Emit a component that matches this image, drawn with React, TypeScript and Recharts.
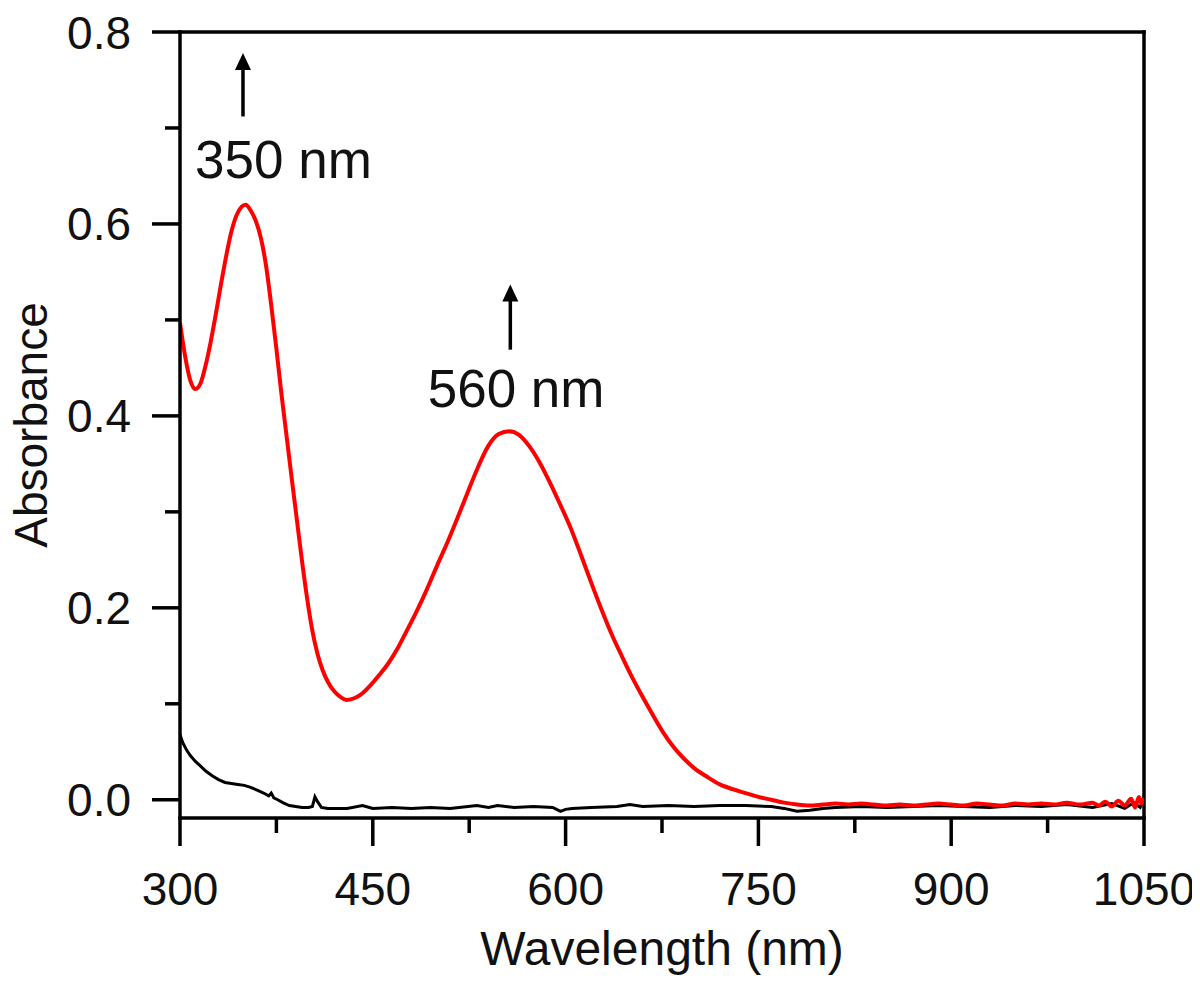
import React from 'react';
import { LineChart, Line, XAxis, YAxis, ReferenceDot, ReferenceLine } from 'recharts';

// Red spectrum (after) – wavelength in nm, absorbance
const RED_WAVELENGTH = [
  300, 304, 308, 312, 316, 320, 324, 328, 332, 336, 340, 344, 348, 351, 355, 359, 363, 367, 371, 375,
  379, 383, 387, 391, 395, 399, 403, 407, 411, 415, 420, 425, 430, 436, 442, 448, 455, 462, 469, 476,
  484, 492, 500, 508, 516, 524, 532, 540, 548, 556, 564, 572, 580, 588, 596, 604, 612, 620, 628, 636,
  644, 652, 660, 668, 676, 684, 692, 700, 710, 720, 730, 740, 750, 760, 770, 780, 790, 800, 810, 820,
  830, 840, 850, 860, 870, 880, 890, 900, 910, 920, 930, 940, 950, 960, 970, 980, 990, 1000, 1010, 1015,
  1020, 1025, 1030, 1035, 1040, 1043, 1046, 1048, 1050,
];
const RED_ABS = [
  0.497, 0.462, 0.437, 0.428, 0.434, 0.453, 0.478, 0.507, 0.538, 0.567, 0.592, 0.609, 0.618, 0.620, 0.614, 0.603, 0.585, 0.556, 0.515, 0.470,
  0.422, 0.378, 0.334, 0.291, 0.248, 0.209, 0.176, 0.152, 0.135, 0.123, 0.113, 0.107, 0.104, 0.106, 0.111, 0.119, 0.130, 0.142, 0.157, 0.175,
  0.196, 0.219, 0.244, 0.268, 0.294, 0.321, 0.347, 0.369, 0.381, 0.384, 0.380, 0.368, 0.351, 0.330, 0.307, 0.283, 0.255, 0.226, 0.198, 0.172,
  0.149, 0.127, 0.107, 0.088, 0.070, 0.055, 0.043, 0.033, 0.024, 0.016, 0.011, 0.007, 0.003, 0.000, -0.003, -0.005, -0.006, -0.005, -0.004, -0.005,
  -0.004, -0.005, -0.006, -0.005, -0.006, -0.005, -0.004, -0.005, -0.006, -0.004, -0.005, -0.006, -0.004, -0.005, -0.004, -0.005, -0.003, -0.005, -0.003, -0.006,
  -0.002, -0.007, -0.001, -0.006, 0.001, -0.008, 0.003, -0.004, 0.002,
];

// Black spectrum (before)
const BLACK_WAVELENGTH = [
  300, 302, 305, 308, 312, 316, 320, 325, 330, 335, 340, 345, 350, 355, 360, 365, 369, 371, 373, 376,
  380, 385, 390, 395, 400, 403, 405, 407, 410, 415, 420, 430, 442, 450, 465, 480, 495, 510, 531, 540,
  547, 560, 575, 590, 596, 600, 605, 620, 640, 650, 660, 680, 700, 720, 740, 760, 770, 780, 790, 800,
  810, 830, 850, 870, 890, 910, 930, 950, 970, 990, 1010, 1025, 1035, 1042, 1047, 1050,
];
const BLACK_ABS = [
  0.068, 0.060, 0.052, 0.046, 0.040, 0.035, 0.030, 0.025, 0.021, 0.018, 0.017, 0.016, 0.015, 0.013, 0.010, 0.007, 0.004, 0.007, 0.002, 0.000,
  -0.003, -0.006, -0.007, -0.008, -0.008, -0.007, 0.003, -0.002, -0.008, -0.009, -0.009, -0.009, -0.006, -0.009, -0.008, -0.009, -0.008, -0.009, -0.006, -0.008,
  -0.006, -0.008, -0.007, -0.008, -0.012, -0.010, -0.009, -0.008, -0.007, -0.005, -0.007, -0.006, -0.007, -0.006, -0.006, -0.007, -0.009, -0.012, -0.011, -0.009,
  -0.008, -0.007, -0.008, -0.007, -0.006, -0.007, -0.008, -0.006, -0.007, -0.005, -0.008, -0.004, -0.009, -0.003, -0.008, 0.003,
];

const X_TICKS = [300, 375, 450, 525, 600, 675, 750, 825, 900, 975, 1050];
const X_MAJOR = [300, 450, 600, 750, 900, 1050];
const Y_TICKS = [0, 0.1, 0.2, 0.3, 0.4, 0.5, 0.6, 0.7, 0.8];
const Y_MAJOR = [0, 0.2, 0.4, 0.6, 0.8];

// peak annotations: text anchor (center, baseline) and arrow in data units
const PEAK_LABELS = ['350 nm', '560 nm'];
const PEAK_LABEL_X = [380.5, 561.5];
const PEAK_LABEL_Y = [0.648, 0.4095];
const ARROW_X = [349, 557];
const ARROW_TIP = [0.778, 0.537];
const ARROW_BASE = [0.712, 0.469];

const X_DOMAIN: [number, number] = [300, 1050];
const Y_DOMAIN: [number, number] = [-0.019, 0.8];

const redData = RED_WAVELENGTH.map((w, i) => ({ w, a: RED_ABS[i] }));
const blackData = BLACK_WAVELENGTH.map((w, i) => ({ w, a: BLACK_ABS[i] }));

const FONT = '"Liberation Sans", Arial, Helvetica, sans-serif';
const AXIS = { stroke: '#000', strokeWidth: 3.5, strokeLinecap: 'square' as const };

const XTick = (props: any) => {
  const { x, y, payload } = props;
  const major = X_MAJOR.includes(payload.value);
  return (
    <g>
      <line x1={x} x2={x} y1={y} y2={y + (major ? 28 : 15)} stroke="#000" strokeWidth={3.5} />
      {major && (
        <text x={x} y={y + 87} textAnchor="middle" fontFamily={FONT} fontSize={46} fill="#111">
          {payload.value}
        </text>
      )}
    </g>
  );
};

const YTick = (props: any) => {
  const { x, y, payload } = props;
  const major = Y_MAJOR.some(v => Math.abs(v - payload.value) < 1e-9);
  return (
    <g>
      <line x1={x} x2={x - (major ? 28 : 15)} y1={y} y2={y} stroke="#000" strokeWidth={3.5} />
      {major && (
        <text x={x - 49} y={y + 16.5} textAnchor="end" fontFamily={FONT} fontSize={46} fill="#111">
          {payload.value.toFixed(1)}
        </text>
      )}
    </g>
  );
};

const XLabel = (props: any) => {
  const vb = props.viewBox;
  return (
    <text x={vb.x + vb.width / 2} y={vb.y + 147} textAnchor="middle" fontFamily={FONT} fontSize={48} fill="#111">
      Wavelength (nm)
    </text>
  );
};

const YLabel = (props: any) => {
  const vb = props.viewBox;
  const cx = 39;
  const cy = vb.y + vb.height / 2;
  return (
    <text x={cx} y={cy} transform={`rotate(-90, ${cx}, ${cy})`} textAnchor="middle" fontFamily={FONT} fontSize={46} fill="#111">
      Absorbance
    </text>
  );
};

export default function App() {
  return (
    <div style={{ width: 1192, height: 971, background: '#fff' }}>
      <LineChart width={1192} height={971} margin={{ top: 24, right: 56, left: 0, bottom: 0 }}>
        <XAxis
          dataKey="w"
          type="number"
          domain={X_DOMAIN}
          allowDataOverflow
          ticks={X_TICKS}
          interval={0}
          tickSize={0}
          tickMargin={0}
          tick={<XTick />}
          tickLine={false}
          axisLine={AXIS}
          height={161}
          label={<XLabel />}
        />
        <YAxis
          type="number"
          domain={Y_DOMAIN}
          allowDataOverflow
          ticks={Y_TICKS}
          interval={0}
          tickSize={0}
          tickMargin={0}
          tick={<YTick />}
          tickLine={false}
          axisLine={AXIS}
          width={172}
          label={<YLabel />}
        />
        {/* frame: top and right edges */}
        <ReferenceLine y={Y_DOMAIN[1]} stroke="#000" strokeWidth={3.5} strokeLinecap="square" ifOverflow="visible" />
        <ReferenceLine x={X_DOMAIN[1]} stroke="#000" strokeWidth={3.5} strokeLinecap="square" ifOverflow="visible" />
        <Line
          data={blackData}
          dataKey="a"
          type="linear"
          stroke="#000"
          strokeWidth={3}
          dot={false}
          isAnimationActive={false}
        />
        <Line
          data={redData}
          dataKey="a"
          type="monotone"
          stroke="#ff0000"
          strokeWidth={4}
          dot={false}
          isAnimationActive={false}
        />
        {ARROW_X.map((ax, i) => (
          <ReferenceLine
            key={`shaft-${i}`}
            segment={[{ x: ax, y: ARROW_BASE[i] }, { x: ax, y: ARROW_TIP[i] - 0.012 }]}
            stroke="#000"
            strokeWidth={3.5}
            ifOverflow="visible"
          />
        ))}
        {ARROW_X.map((ax, i) => (
          <ReferenceDot
            key={`head-${i}`}
            x={ax}
            y={ARROW_TIP[i]}
            r={0}
            ifOverflow="visible"
            shape={(p: any) => (
              <polygon points={`${p.cx},${p.cy} ${p.cx - 8},${p.cy + 17} ${p.cx + 8},${p.cy + 17}`} fill="#000" />
            )}
          />
        ))}
        {PEAK_LABELS.map((t, i) => (
          <ReferenceDot
            key={`lbl-${i}`}
            x={PEAK_LABEL_X[i]}
            y={PEAK_LABEL_Y[i]}
            r={0}
            ifOverflow="visible"
            shape={(p: any) => (
              <text x={p.cx} y={p.cy} textAnchor="middle" fontFamily={FONT} fontSize={53} fill="#111">
                {t}
              </text>
            )}
          />
        ))}
      </LineChart>
    </div>
  );
}
